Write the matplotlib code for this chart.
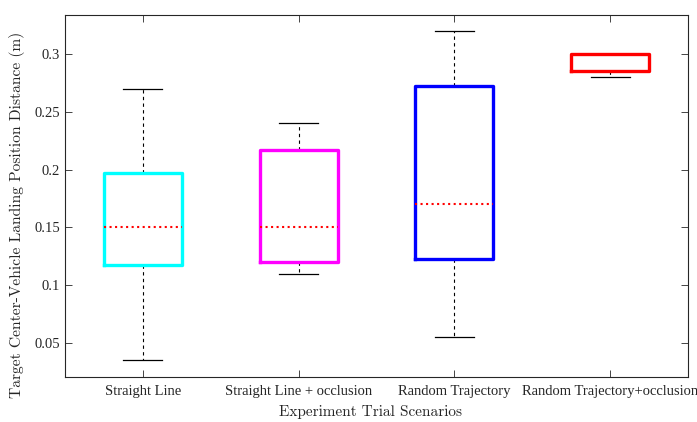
import matplotlib
matplotlib.use("Agg")
import matplotlib.pyplot as plt

plt.rcParams["font.family"] = ["Liberation Serif", "DejaVu Serif"]

scenarios = ["Straight Line", "Straight Line + occlusion", "Random Trajectory", "Random Trajectory+occlusion"]
whislo = [0.035, 0.11, 0.055, 0.28]
q1 = [0.1175, 0.120, 0.1225, 0.2855]
med = [0.150, 0.150, 0.170, 0.300]
q3 = [0.197, 0.217, 0.2725, 0.300]
whishi = [0.270, 0.240, 0.320, 0.300]
colors = ["#00ffff", "#ff00ff", "#0000ff", "#ff0000"]

stats = []
for i in range(len(scenarios)):
    stats.append({"label": scenarios[i], "whislo": whislo[i], "q1": q1[i], "med": med[i],
                  "q3": q3[i], "whishi": whishi[i], "fliers": []})

fig = plt.figure(figsize=(6.97, 4.22), dpi=100)
ax = fig.add_axes([65/697, 1 - 377/422, 623/697, 362/422])

bp = ax.bxp(stats, positions=[1, 2, 3, 4], widths=0.5, showfliers=False,
            whiskerprops=dict(color="black", linestyle=(0, (3, 3)), linewidth=0.8),
            capprops=dict(color="black", linewidth=0.9),
            medianprops=dict(color="red", linestyle=":", linewidth=1.5),
            capwidths=0.25)
for b, c in zip(bp["boxes"], colors):
    b.set_color(c)
    b.set_linewidth(2.4)
    b.set_zorder(3)
# whisker/cap hidden when it sits on the box edge
for i in range(len(scenarios)):
    if whishi[i] <= q3[i]:
        bp["caps"][2 * i + 1].set_visible(False)
        bp["whiskers"][2 * i + 1].set_visible(False)
    if med[i] >= q3[i]:
        bp["medians"][i].set_visible(False)
for m in bp["medians"]:
    m.set_zorder(4)

ax.set_xlim(0.5, 4.5)
ax.set_ylim(0.0206, 0.3337)
ax.set_yticks([0.05, 0.1, 0.15, 0.2, 0.25, 0.3])
ax.set_yticklabels(["0.05", "0.1", "0.15", "0.2", "0.25", "0.3"])
ax.tick_params(direction="in", top=True, right=True, labelsize=10.5, length=5, width=0.6,
               colors="#262626")
ax.tick_params(axis="x", pad=6)
for s in ax.spines.values():
    s.set_linewidth(0.8)
    s.set_color("#262626")
ax.set_xlabel("Experiment Trial Scenarios", fontsize=11, family=["cmr10", "DejaVu Serif"], color="#262626")
ax.set_ylabel("Target Center-Vehicle Landing Position Distance (m)", fontsize=11.2,
              family=["cmr10", "DejaVu Serif"], color="#262626")
ax.xaxis.set_label_coords(0.49, -0.076)
ax.yaxis.set_label_coords(-0.064, 0.4475)

fig.savefig("out.png", dpi=100)
